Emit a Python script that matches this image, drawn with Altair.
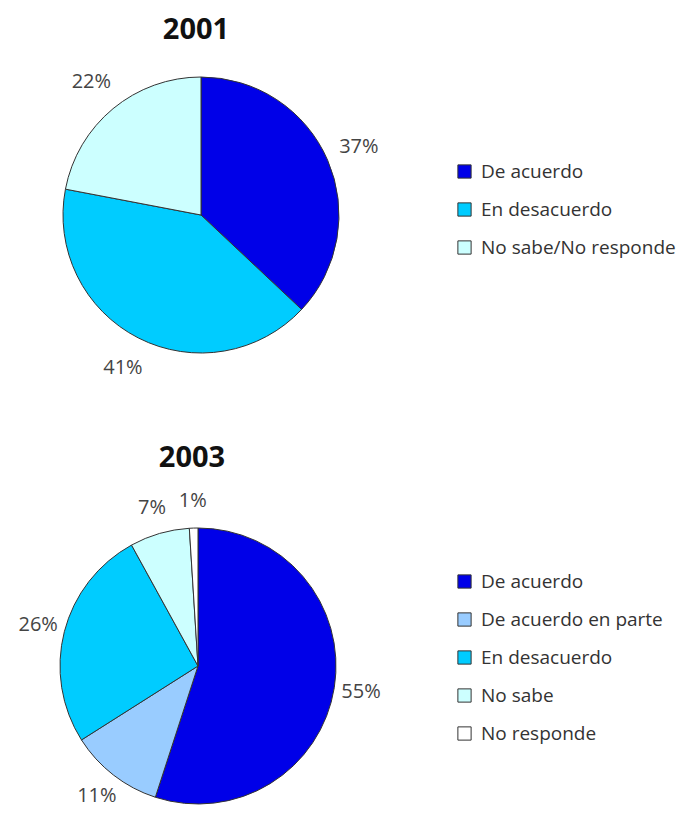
import altair as alt
import pandas as pd

# 2001 data
cats_2001 = ["De acuerdo", "En desacuerdo", "No sabe/No responde"]
vals_2001 = [37, 41, 22]
cols_2001 = ["#0000E8", "#00CCFF", "#CCFFFF"]

# 2003 data
cats_2003 = ["De acuerdo", "De acuerdo en parte", "En desacuerdo", "No sabe", "No responde"]
vals_2003 = [55, 11, 26, 7, 1]
cols_2003 = ["#0000E8", "#99CCFF", "#00CCFF", "#CCFFFF", "#FFFFFF"]

titles = ["2001", "2003"]

FONT = "Open Sans"

df1 = pd.DataFrame({"cat": cats_2001, "value": vals_2001, "idx": range(len(cats_2001))})
df1["label"] = df1["value"].astype(str) + "%"
df2 = pd.DataFrame({"cat": cats_2003, "value": vals_2003, "idx": range(len(cats_2003))})
df2["label"] = df2["value"].astype(str) + "%"


def pie(df, cats, cols, cx, cy, legend_y, label_r):
    base = alt.Chart(df).encode(
        theta=alt.Theta("value:Q", stack=True),
        order=alt.Order("idx:Q"),
        x=alt.value(cx),
        y=alt.value(cy),
    )
    arc = base.mark_arc(outerRadius=138, stroke="#333333", strokeWidth=1).encode(
        color=alt.Color(
            "cat:N",
            scale=alt.Scale(domain=cats, range=cols),
            sort=cats,
            legend=alt.Legend(
                title=None,
                orient="none",
                legendX=447,
                legendY=legend_y,
                symbolType="square",
                symbolSize=175,
                symbolStrokeColor="#333333",
                symbolStrokeWidth=1,
                labelFont=FONT,
                labelFontSize=19,
                labelColor="#333333",
                labelLimit=400,
                rowPadding=18,
                labelOffset=7,
            ),
        )
    )
    text = base.mark_text(radius=label_r, font=FONT, fontSize=20, color="#444444").encode(
        text="label:N"
    )
    return arc, text


arc1, text1 = pie(df1, cats_2001, cols_2001, 193, 207, 154, 172)
arc2, text2 = pie(df2, cats_2003, cols_2003, 190, 658, 564, 165)

tdf = pd.DataFrame({"t": titles, "x": [188, 184], "y": [22, 450]})
title_layer = alt.Chart(tdf).mark_text(
    font=FONT, fontSize=29, fontWeight="bold", color="#111111"
).encode(
    text="t:N",
    x=alt.X("x:Q", scale=alt.Scale(domain=[0, 681], range=[0, 681]), axis=None),
    y=alt.Y("y:Q", scale=alt.Scale(domain=[0, 799], range=[0, 799]), axis=None),
)

chart = (
    alt.layer(arc1, text1, arc2, text2, title_layer)
    .resolve_scale(color="independent", theta="independent", x="independent", y="independent")
    .properties(
        width=681,
        height=799,
        autosize=alt.AutoSizeParams(type="none"),
        padding=0,
        background="white",
    )
    .configure_view(stroke=None)
)

chart.save("out.html", embed_options={"renderer": "svg", "actions": False})
